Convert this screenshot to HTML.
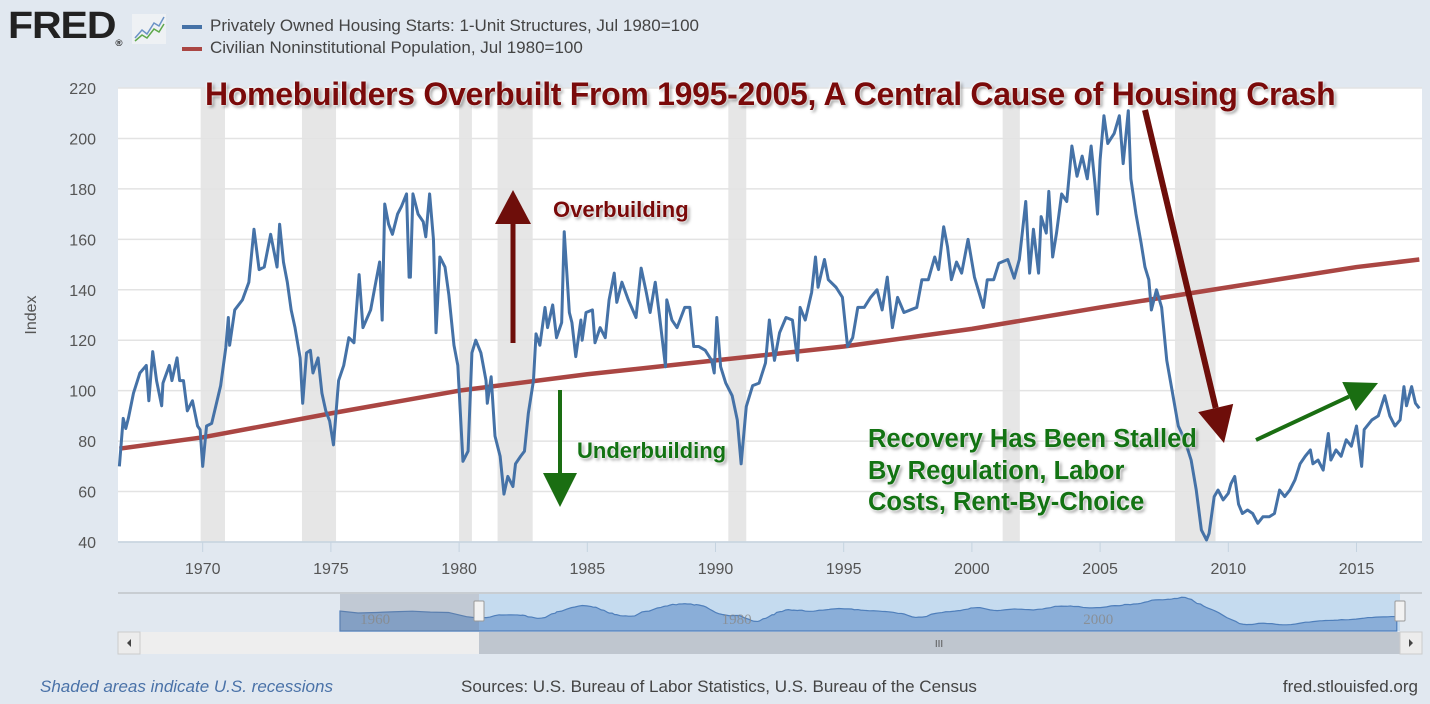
<!DOCTYPE html>
<html><head><meta charset="utf-8">
<style>
body{margin:0;width:1430px;height:704px;background:#e1e8f0;font-family:"Liberation Sans",sans-serif;overflow:hidden;position:relative}
.t{position:absolute;white-space:nowrap}
.ann{font-weight:bold;text-shadow:0 0 2px #fff,0 0 3px #fff,2px 2px 3px rgba(0,0,0,.45)}
</style></head><body>
<div class="t" style="left:8px;top:5px;font:900 38px 'Liberation Sans',sans-serif;color:#222;letter-spacing:-1px;transform:scaleX(1.08);transform-origin:left">FRED<span style="font-size:9px;vertical-align:bottom">®</span></div>
<svg style="position:absolute;left:132px;top:14px" width="34" height="30"><rect width="34" height="30" fill="#eef1f4"/><polyline points="3,24 10,16 15,20 22,9 27,12 32,3" fill="none" stroke="#6b93c6" stroke-width="1.5"/><polyline points="3,27 10,21 15,24 22,15 27,18 32,10" fill="none" stroke="#5ea84a" stroke-width="1.5"/></svg>
<div class="t" style="left:182px;top:16px;font-size:17px;color:#444"><span style="display:inline-block;width:20px;height:4px;background:#4572a7;vertical-align:middle;margin-right:8px"></span>Privately Owned Housing Starts: 1-Unit Structures, Jul 1980=100</div>
<div class="t" style="left:182px;top:38px;font-size:17px;color:#444"><span style="display:inline-block;width:20px;height:4px;background:#aa4643;vertical-align:middle;margin-right:8px"></span>Civilian Noninstitutional Population, Jul 1980=100</div>

<svg id="chart" style="position:absolute;left:0;top:0" width="1430" height="704"></svg>

<div class="t" style="left:40px;top:677px;font-size:17px;font-style:italic;color:#4a72a8">Shaded areas indicate U.S. recessions</div>
<div class="t" style="left:461px;top:677px;font-size:17px;color:#444">Sources: U.S. Bureau of Labor Statistics, U.S. Bureau of the Census</div>
<div class="t" style="right:12px;top:677px;font-size:17px;color:#444">fred.stlouisfed.org</div>

<div class="t ann" style="left:205px;top:76px;font-size:32px;color:#7a0a0a;letter-spacing:-0.3px">Homebuilders Overbuilt From 1995-2005, A Central Cause of Housing Crash</div>
<div class="t ann" style="left:553px;top:197px;font-size:22px;color:#7a0a0a">Overbuilding</div>
<div class="t ann" style="left:577px;top:438px;font-size:22px;color:#137313">Underbuilding</div>
<div class="t ann" style="left:868px;top:424px;font-size:25.5px;line-height:31.5px;color:#137313">Recovery Has Been Stalled<br>By Regulation, Labor<br>Costs, Rent-By-Choice</div>

<script>
const years=[1966.75,1966.9,1967.0,1967.1,1967.3,1967.55,1967.8,1967.9,1968.05,1968.2,1968.4,1968.45,1968.7,1968.8,1969.0,1969.1,1969.25,1969.4,1969.6,1969.8,1969.9,1970.0,1970.15,1970.35,1970.7,1970.9,1971.0,1971.05,1971.25,1971.55,1971.8,1972.0,1972.2,1972.4,1972.65,1972.9,1973.0,1973.15,1973.3,1973.45,1973.6,1973.8,1973.9,1974.05,1974.2,1974.3,1974.5,1974.65,1974.8,1974.95,1975.1,1975.3,1975.5,1975.7,1975.9,1976.1,1976.25,1976.55,1976.75,1976.9,1977.0,1977.1,1977.25,1977.4,1977.6,1977.75,1977.95,1978.05,1978.1,1978.2,1978.4,1978.6,1978.7,1978.85,1979.0,1979.1,1979.25,1979.45,1979.6,1979.8,1979.95,1980.15,1980.35,1980.5,1980.65,1980.85,1981.05,1981.1,1981.25,1981.4,1981.6,1981.75,1981.9,1982.1,1982.2,1982.4,1982.55,1982.7,1982.9,1983.0,1983.15,1983.35,1983.45,1983.65,1983.8,1984.0,1984.1,1984.3,1984.4,1984.55,1984.75,1984.8,1984.95,1985.2,1985.3,1985.5,1985.7,1985.85,1986.05,1986.15,1986.35,1986.6,1986.9,1987.1,1987.3,1987.45,1987.65,1987.8,1988.05,1988.1,1988.3,1988.5,1988.8,1989.0,1989.15,1989.35,1989.6,1989.85,1989.95,1990.05,1990.2,1990.4,1990.65,1990.85,1991.0,1991.2,1991.45,1991.7,1991.95,1992.1,1992.3,1992.5,1992.75,1993.0,1993.2,1993.3,1993.5,1993.75,1993.9,1994.0,1994.25,1994.4,1994.7,1994.95,1995.15,1995.35,1995.55,1995.8,1996.05,1996.3,1996.5,1996.7,1996.9,1997.1,1997.35,1997.6,1997.85,1998.05,1998.3,1998.55,1998.7,1998.9,1999.05,1999.2,1999.4,1999.6,1999.85,2000.1,2000.45,2000.6,2000.85,2001.05,2001.4,2001.65,2001.85,2002.1,2002.25,2002.4,2002.6,2002.7,2002.9,2003.0,2003.15,2003.3,2003.5,2003.7,2003.9,2004.1,2004.3,2004.5,2004.65,2004.8,2004.9,2005.0,2005.15,2005.3,2005.55,2005.75,2005.9,2006.1,2006.2,2006.4,2006.6,2006.75,2006.9,2007.0,2007.2,2007.4,2007.6,2007.85,2008.05,2008.3,2008.55,2008.75,2008.95,2009.15,2009.25,2009.45,2009.6,2009.8,2010.0,2010.1,2010.25,2010.4,2010.55,2010.75,2010.95,2011.15,2011.35,2011.6,2011.8,2012.0,2012.2,2012.4,2012.6,2012.8,2013.0,2013.2,2013.3,2013.5,2013.7,2013.9,2014.0,2014.2,2014.4,2014.6,2014.8,2015.0,2015.2,2015.3,2015.6,2015.85,2016.1,2016.3,2016.5,2016.7,2016.85,2016.95,2017.15,2017.3,2017.45];
const housing=[70,89,85,89,99,107,110,96,115.5,104,94,103,110,104,113,104,104,92,96,86,84.5,70,86,87,102,117,129,118,132,136,143,164,148,149,162,149,166,151,143,132,125,113,95,115,116,107,113,99,92,88,78.5,104,110,121,119,146,125,132,143,151,128,174,166,162,170,173,178,145,145,178,170,167,161,178,160,123,153,149,138,118,110,72,76,115,120,115,104,95,105.5,82,74,59,66,62,71,74,76,91,104,122.5,118,133,125,134,121,127,163,131,127,113.5,128,120,131,132,119,125,121,136,146.6,135,143,136,129,148.6,139,131,143,131,109.5,136,128,125,133,133,117.5,117.5,116,112,107,129,109.5,103,98,88.4,71,93.7,102,103,111,128,112,123,129,128,112,133,128,139,153,141,152,144,141,137,117.5,121,133,133,137,140,132,145,125,137,131,132,133,144,144,153,148,165,157,144,151,146.6,160,145,133,144,144,150.5,152,144.6,152,175,146.6,164,146.6,169,162.5,179,153,162.5,178,175,197,185,193,184,197,182,170,191.5,209,198,202,209,190,211,184,170,158.5,149,144,132,140,133,112,97.6,86,80.5,72.5,60.6,44.8,40.8,43.4,58,60.6,56.7,59.3,63,66,55,51.3,52.7,51.3,47.4,50,50,51.3,60.6,58,60.6,64.6,71,74,76.5,71,72.5,68.5,83,72.5,76.5,74,80.5,78,86,70,84.6,88.4,90,98,90,86,88.4,101.6,94,101.6,95,93];
const popYears=[1966.75,1970,1975,1980,1985,1990,1995,2000,2005,2010,2015,2017.45];
const population=[77,81.5,91,100,106.5,112,117.5,124.5,133,141,149,152];
const navEarlyYears=[1959,1960,1961,1962,1963,1964,1965,1966];
const navEarlyHousing=[126,115,118,122,125,120,118,95];
const recStart=[1969.92,1973.87,1980.0,1981.5,1990.5,2001.2,2007.92];
const recEnd=[1970.87,1975.2,1980.5,1982.87,1991.2,2001.87,2009.5];
const yTicks=[40,60,80,100,120,140,160,180,200,220];
const xTicks=[1970,1975,1980,1985,1990,1995,2000,2005,2010,2015];
const navLabels=[1960,1980,2000];

const L=118,R=1422,T=88,B=542;
const x=yr=>202.7+(yr-1970)*25.64;
const y=v=>B-(v-40)*(B-T)/180;
const nx=yr=>340+(yr-1959)*18.08;
const ny=v=>634-v*0.1824;
const svg=document.getElementById('chart');
const NS='http://www.w3.org/2000/svg';
function mk(tag,attrs,parent){const e=document.createElementNS(NS,tag);for(const k in attrs)e.setAttribute(k,attrs[k]);(parent||svg).appendChild(e);return e;}

const bg=mk('rect',{x:L,y:T,width:R-L,height:B-T,fill:'#fff'});


recStart.forEach((s,i)=>{
  const r=mk('rect',{x:x(s),y:T,width:x(recEnd[i])-x(s),height:B-T,fill:'#e6e6e6'});
  
  
});
yTicks.forEach(v=>{
  const g=mk('line',{x1:L,x2:R,y1:y(v),y2:y(v),stroke:'#e3e3e3','stroke-width':1.5});
  
  
  const t=mk('text',{x:96,y:y(v)+6,'text-anchor':'end','font-size':16,fill:'#555','font-family':'Liberation Sans, sans-serif'});
  t.textContent=v;
  
  
});
const ax=mk('line',{x1:L,x2:R,y1:B,y2:B,stroke:'#c5d3e0','stroke-width':1.5});


xTicks.forEach(yr=>{
  const k=mk('line',{x1:x(yr),x2:x(yr),y1:B,y2:B+10,stroke:'#c5d3e0'});
  
  
  const t=mk('text',{x:x(yr),y:B+32,'text-anchor':'middle','font-size':16,fill:'#555','font-family':'Liberation Sans, sans-serif'});
  t.textContent=yr;
  
  
});
const yt=mk('text',{x:36,y:315,'text-anchor':'middle','font-size':16,fill:'#555',transform:'rotate(-90 36 315)','font-family':'Liberation Sans, sans-serif'});
yt.textContent='Index';



const pl=mk('polyline',{points:popYears.map((yr,i)=>x(yr)+','+y(population[i])).join(' '),fill:'none',stroke:'#aa4643','stroke-width':4.5,'stroke-linejoin':'round'});


const hl=mk('polyline',{points:years.map((yr,i)=>x(yr)+','+y(housing[i])).join(' '),fill:'none',stroke:'#4572a7','stroke-width':3,'stroke-linejoin':'round'});



function arrow(x1,y1,x2,y2,color,w,hw,hl,name){
  const a=Math.atan2(y2-y1,x2-x1),c=Math.cos(a),s=Math.sin(a);
  const bx=x2-hl*c,by=y2-hl*s;
  const g=mk('g',{});
  
  
  mk('line',{x1,y1,x2:bx,y2:by,stroke:color,'stroke-width':w},g);
  mk('polygon',{points:`${x2},${y2} ${bx-hw*s},${by+hw*c} ${bx+hw*s},${by-hw*c}`,fill:color},g);
}
arrow(513,343,513,190,'#6e0e0a',5,18,34,'overbuilding-arrow');
arrow(560,390,560,507,'#1a6e12',4,17,34,'underbuilding-arrow');
arrow(1145,110,1224,443,'#6e0e0a',6,18,36,'crash-arrow');
arrow(1256,440,1378,383,'#1a6e12',4,16,32,'recovery-arrow');

// navigator (smoothed view of the same data)
const nb=mk('line',{x1:118,x2:1422,y1:593,y2:593,stroke:'#c0c4c8','stroke-width':1.5});


const sel=mk('rect',{x:479,y:594,width:921,height:37,fill:'#c5dbef'});


const nyr=navEarlyYears.concat(years),nv=navEarlyHousing.concat(housing);
const nvs=nyr.map((yr,i)=>{let s=0,n=0;nyr.forEach((y2,j)=>{if(Math.abs(y2-yr)<=0.6){s+=nv[j];n++;}});return s/n;});
const area=mk('polygon',{points:nx(nyr[0])+',631 '+nyr.map((yr,i)=>nx(yr)+','+ny(nvs[i])).join(' ')+' '+nx(nyr[nyr.length-1])+',631',fill:'#8aaed8',stroke:'#4f7fbb','stroke-width':1.2});


const unsel=mk('rect',{x:340,y:594,width:139,height:37,fill:'rgba(120,130,150,0.3)'});


navLabels.forEach(yr=>{
  const t=mk('text',{x:nx(yr)+2,y:624,'font-size':15,fill:'#888','fill-opacity':0.8,'font-family':'Liberation Serif, serif'});
  t.textContent=yr;
  
  
});
[479,1400].forEach(hx=>{
  const h=mk('rect',{x:hx-5,y:601,width:10,height:20,fill:'#f2f2f2',stroke:'#999',rx:1});
  
  
});
const trk=mk('rect',{x:140,y:632,width:1260,height:22,fill:'#eeeeee'});


const th=mk('rect',{x:479,y:632,width:921,height:22,fill:'#bfc6cf'});


const gr=mk('text',{x:939,y:647,'text-anchor':'middle','font-size':10,fill:'#555'});
gr.textContent='III';


const lb=mk('rect',{x:118,y:632,width:22,height:22,fill:'#ececec',stroke:'#ccc'});


mk('polygon',{points:'127,643 131,639 131,647',fill:'#444'});
const rb=mk('rect',{x:1400,y:632,width:22,height:22,fill:'#ececec',stroke:'#ccc'});


mk('polygon',{points:'1413,643 1409,639 1409,647',fill:'#444'});
</script>
</body></html>
